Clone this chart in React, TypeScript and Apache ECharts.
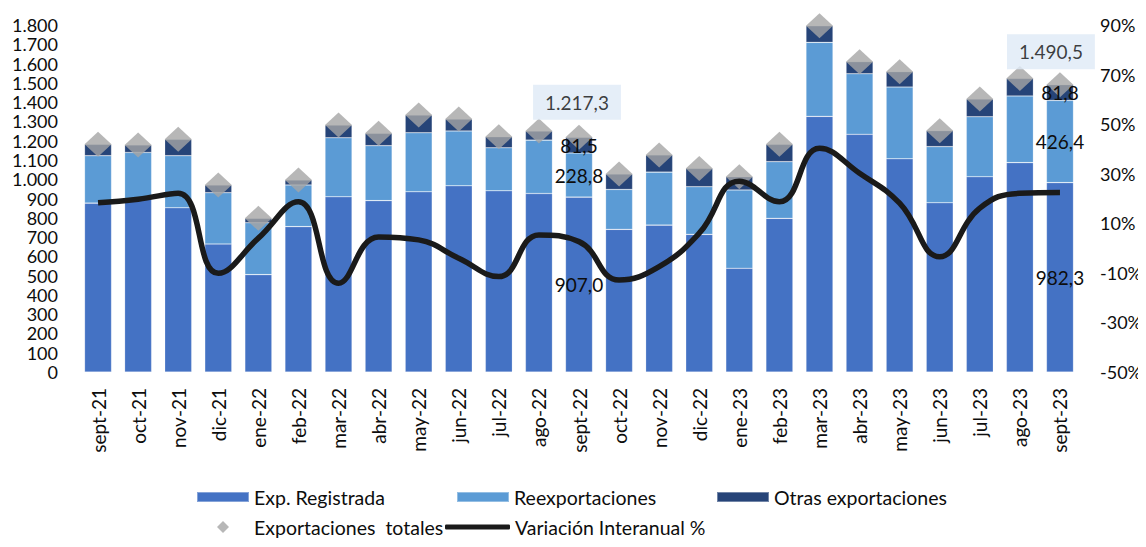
import React, { useEffect, useRef } from "react";
import * as echarts from "echarts";

const categories = [
  "sept-21", "oct-21", "nov-21", "dic-21", "ene-22", "feb-22", "mar-22", "abr-22",
  "may-22", "jun-22", "jul-22", "ago-22", "sept-22", "oct-22", "nov-22", "dic-22",
  "ene-23", "feb-23", "mar-23", "abr-23", "may-23", "jun-23", "jul-23", "ago-23", "sept-23",
];

const expRegistrada = [
  876, 900, 852, 664, 505, 754, 909, 889, 935, 966, 940, 926, 907.0,
  740, 762, 714, 538, 797, 1326, 1233, 1106, 878, 1013, 1086, 982.3,
];

const reexportaciones = [
  246, 239, 270, 266, 269, 216, 306, 285, 306, 284, 223, 277, 228.8,
  207, 275, 247, 406, 294, 384, 314, 372, 291, 311, 346, 426.4,
];

const otrasExportaciones = [
  59, 39, 85, 40, 23, 26, 66, 64, 92, 62, 57, 47, 81.5,
  80, 89, 95, 69, 90, 86, 63, 80, 83, 92, 91, 81.8,
];

const variacionInteranual = [
  18.3, 19.7, 22.1, -10.2, 4.0, 18.7, -14.2, 4.5, 3.3, -4.1, -11.5, 5.3, 2.6,
  -12.9, -7.5, 6.0, 27.0, 18.7, 40.3, 30.2, 18.1, -3.5, 16.1, 22.1, 22.4,
];

const leftTicks = { min: 0, max: 1800, interval: 100 };
const rightTicks = { min: -50, max: 90, interval: 20 };

const labeledIdx = [12, 24];

const FONT = "Lato";
const TXT = "#0d0d0d";

function fmtEs(v: number, dec: number): string {
  const fixed = v.toFixed(dec);
  const [intPart, decPart] = fixed.split(".");
  const neg = intPart.startsWith("-");
  const digits = neg ? intPart.slice(1) : intPart;
  const withDots = digits.replace(/\B(?=(\d{3})+(?!\d))/g, ".");
  return (neg ? "-" : "") + withDots + (decPart !== undefined ? "," + decPart : "");
}

const totals = expRegistrada.map(
  (v, i) => Math.round((v + reexportaciones[i] + otrasExportaciones[i]) * 10) / 10
);

function withLabels(arr: number[]) {
  return arr.map((v, i) =>
    labeledIdx.includes(i)
      ? {
          value: v,
          label: {
            show: true,
            position: "inside",
            formatter: (p: any) => fmtEs(p.value, 1),
            color: TXT,
            fontFamily: FONT,
            fontSize: 19,
          },
        }
      : v
  );
}

export default function App() {
  const ref = useRef<HTMLDivElement>(null);

  useEffect(() => {
    if (!ref.current) return;
    const chart = echarts.init(ref.current, undefined, { renderer: "svg" });

    const legendBase = {
      orient: "horizontal",
      itemGap: 0,
      padding: 0,
      selectedMode: false,
      textStyle: { fontFamily: FONT, fontSize: 19.5, color: TXT, lineHeight: 20 },
    };

    const barCommon = {
      type: "bar",
      stack: "exp",
      barWidth: 27,
      barGap: "-100%",
      yAxisIndex: 0,
      z: 2,
    };

    const labelCommon = {
      type: "bar",
      stack: "lbl",
      barWidth: 27,
      barGap: "-100%",
      yAxisIndex: 0,
      z: 6,
      silent: true,
      itemStyle: { color: "rgba(0,0,0,0)" },
    };

    chart.setOption({
      animation: false,
      backgroundColor: "#ffffff",
      grid: { left: 78, right: 66, top: 25, bottom: 175, containLabel: false },
      legend: [
        { ...legendBase, data: [{ name: "Exp. Registrada", icon: "rect" }], left: 196, top: 487, itemWidth: 52, itemHeight: 10 },
        { ...legendBase, data: [{ name: "Reexportaciones", icon: "rect" }], left: 456, top: 487, itemWidth: 52, itemHeight: 10 },
        { ...legendBase, data: [{ name: "Otras exportaciones", icon: "rect" }], left: 716, top: 487, itemWidth: 52, itemHeight: 10 },
        {
          ...legendBase,
          data: [{ name: "Exportaciones  totales", icon: "diamond" }],
          left: 217,
          top: 517,
          itemWidth: 12,
          itemHeight: 12,
          textStyle: { ...legendBase.textStyle, padding: [0, 0, 0, 20] },
        },
        {
          ...legendBase,
          data: [{ name: "Variación Interanual %", icon: "roundRect", itemStyle: { color: "#1a1a1a" } }],
          left: 445,
          top: 517,
          itemWidth: 65,
          itemHeight: 5,
        },
      ],
      xAxis: {
        type: "category",
        data: categories,
        axisLine: { show: false },
        axisTick: { show: false },
        axisLabel: {
          rotate: 90,
          margin: 16,
          interval: 0,
          fontFamily: FONT,
          fontSize: 19,
          color: TXT,
        },
      },
      yAxis: [
        {
          type: "value",
          ...leftTicks,
          splitLine: { show: false },
          axisLine: { show: false },
          axisTick: { show: false },
          axisLabel: {
            margin: 20,
            fontFamily: FONT,
            fontSize: 18,
            lineHeight: 18,
            color: TXT,
            formatter: (v: number) => fmtEs(v, 0),
          },
        },
        {
          type: "value",
          ...rightTicks,
          position: "right",
          splitLine: { show: false },
          axisLine: { show: false },
          axisTick: { show: false },
          axisLabel: {
            margin: 20,
            fontFamily: FONT,
            fontSize: 18,
            lineHeight: 18,
            color: TXT,
            formatter: (v: number) => `${v}%`,
          },
        },
      ],
      series: [
        {
          ...barCommon,
          name: "Exp. Registrada",
          itemStyle: { color: "#4472C4", borderColor: "rgba(255,255,255,0.35)", borderWidth: 0.6 },
          data: expRegistrada,
        },
        {
          ...barCommon,
          name: "Reexportaciones",
          itemStyle: { color: "#5B9BD5", borderColor: "rgba(255,255,255,0.35)", borderWidth: 0.6 },
          data: reexportaciones,
        },
        {
          ...barCommon,
          name: "Otras exportaciones",
          itemStyle: { color: "#264478", borderColor: "rgba(255,255,255,0.35)", borderWidth: 0.6 },
          data: otrasExportaciones,
        },
        { ...labelCommon, name: "lbl-exp", data: withLabels(expRegistrada) },
        { ...labelCommon, name: "lbl-reexp", data: withLabels(reexportaciones) },
        { ...labelCommon, name: "lbl-otras", data: withLabels(otrasExportaciones) },
        {
          name: "Exportaciones  totales",
          type: "scatter",
          yAxisIndex: 0,
          symbol: "diamond",
          symbolSize: [27, 25],
          itemStyle: { color: "#A5A5A5" },
          z: 3,
          data: totals.map((v, i) =>
            labeledIdx.includes(i)
              ? {
                  value: v,
                  label: {
                    show: true,
                    position: "top",
                    distance: i === 24 ? 3 : 5,
                    offset: i === 24 ? [-9, 0] : [-2, 0],
                    formatter: (p: any) => fmtEs(p.value, 1),
                    color: TXT,
                    fontFamily: FONT,
                    fontSize: 19,
                    backgroundColor: "#DEEAF6",
                    padding: [8, 12, 8, 12],
                  },
                }
              : v
          ),
        },
        {
          name: "Variación Interanual %",
          type: "line",
          yAxisIndex: 1,
          smooth: 0.45,
          symbol: "none",
          z: 4,
          lineStyle: { color: "#1a1a1a", width: 5.5 },
          itemStyle: { color: "#1a1a1a" },
          data: variacionInteranual.map((v, i) =>
            i === variacionInteranual.length - 1
              ? {
                  value: v,
                  label: {
                    show: true,
                    position: "right",
                    distance: 15,
                    formatter: (p: any) => fmtEs(p.value, 1) + "%",
                    color: TXT,
                    fontFamily: FONT,
                    fontSize: 19,
                    backgroundColor: "#ffffff",
                    borderColor: "#8FAADC",
                    borderWidth: 1.5,
                    padding: [7, 8, 7, 8],
                  },
                }
              : v
          ),
        },
      ],
    });

    return () => chart.dispose();
  }, []);

  return <div ref={ref} style={{ width: 1146, height: 547, margin: -8 }} />;
}
